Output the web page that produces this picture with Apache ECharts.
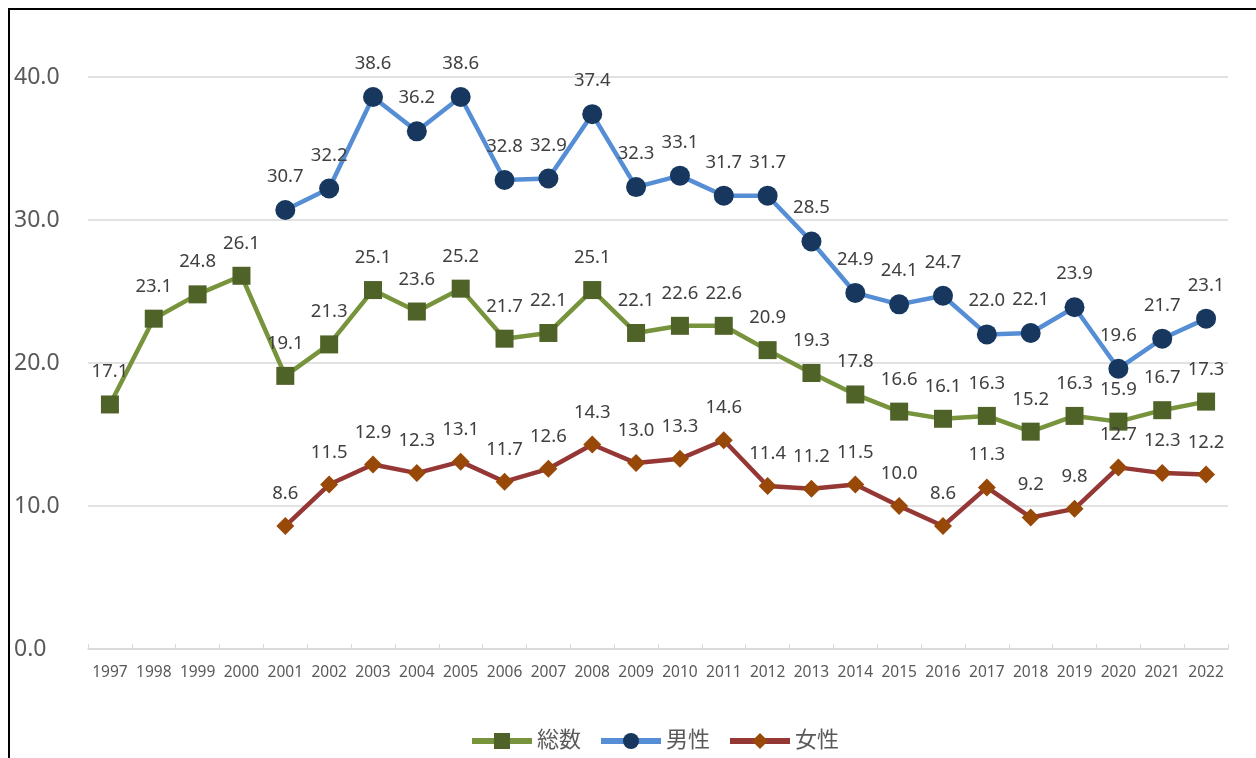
<!DOCTYPE html>
<html>
<head>
<meta charset="utf-8">
<script src="https://cdn.jsdelivr.net/npm/echarts@6/dist/echarts.min.js"></script>
<style>
  html, body { margin: 0; padding: 0; background: #fff; }
  #main { width: 1256px; height: 758px; }
</style>
</head>
<body>
<div id="main"></div>
<script>
var years = ['1997','1998','1999','2000','2001','2002','2003','2004','2005','2006','2007','2008','2009',
  '2010','2011','2012','2013','2014','2015','2016','2017','2018','2019','2020','2021','2022'];
var total = [17.1,23.1,24.8,26.1,19.1,21.3,25.1,23.6,25.2,21.7,22.1,25.1,22.1,
  22.6,22.6,20.9,19.3,17.8,16.6,16.1,16.3,15.2,16.3,15.9,16.7,17.3];
var male = [null,null,null,null,30.7,32.2,38.6,36.2,38.6,32.8,32.9,37.4,32.3,
  33.1,31.7,31.7,28.5,24.9,24.1,24.7,22.0,22.1,23.9,19.6,21.7,23.1];
var female = [null,null,null,null,8.6,11.5,12.9,12.3,13.1,11.7,12.6,14.3,13.0,
  13.3,14.6,11.4,11.2,11.5,10.0,8.6,11.3,9.2,9.8,12.7,12.3,12.2];

var font = '"Noto Sans", "Noto Sans CJK JP", sans-serif';

function lbl() {
  return {
    show: true,
    position: 'top',
    distance: 14,
    fontSize: 18.5,
    fontFamily: font,
    color: '#404040',
    formatter: function (p) { return p.value == null ? '' : p.value.toFixed(1); }
  };
}

var chart = echarts.init(document.getElementById('main'));
chart.setOption({
  animation: false,
  graphic: [{
    type: 'rect',
    shape: { x: 9, y: 9, width: 1400, height: 900 },
    style: { fill: 'none', stroke: '#000', lineWidth: 2 },
    silent: true
  }],
  grid: { left: 88, right: 28, top: 77, bottom: 109 },
  legend: {
    bottom: 1,
    left: 464,
    itemWidth: 60,
    itemHeight: 20,
    itemGap: 17,
    lineStyle: { width: 6 },
    textStyle: { fontSize: 22, color: '#595959', fontFamily: font },
    data: ['総数', '男性', '女性']
  },
  xAxis: {
    type: 'category',
    data: years,
    boundaryGap: true,
    axisLine: { lineStyle: { color: '#d9d9d9', width: 1.5 } },
    axisTick: { show: true, inside: true, length: 5, lineStyle: { color: '#d9d9d9' } },
    axisLabel: { fontSize: 15.5, color: '#595959', margin: 16, fontFamily: font, interval: 0 }
  },
  yAxis: {
    type: 'value',
    min: 0,
    max: 40,
    interval: 10,
    axisLine: { show: false },
    axisTick: { show: false },
    splitLine: { lineStyle: { color: '#d9d9d9', width: 1.5 } },
    axisLabel: {
      fontSize: 23, color: '#595959', fontFamily: font,
      align: 'left', margin: 74,
      formatter: function (v) { return v.toFixed(1); }
    }
  },
  series: [
    {
      name: '総数', type: 'line', data: total,
      symbol: 'rect', symbolSize: 18,
      lineStyle: { color: '#77933c', width: 4.5 },
      itemStyle: { color: '#4f6228' },
      label: lbl()
    },
    {
      name: '男性', type: 'line', data: male,
      symbol: 'circle', symbolSize: 20,
      lineStyle: { color: '#558ed5', width: 4.5 },
      itemStyle: { color: '#17375e' },
      label: lbl()
    },
    {
      name: '女性', type: 'line', data: female,
      symbol: 'diamond', symbolSize: 18,
      lineStyle: { color: '#953735', width: 4.5 },
      itemStyle: { color: '#984807' },
      label: lbl()
    }
  ]
});
</script>
</body>
</html>
